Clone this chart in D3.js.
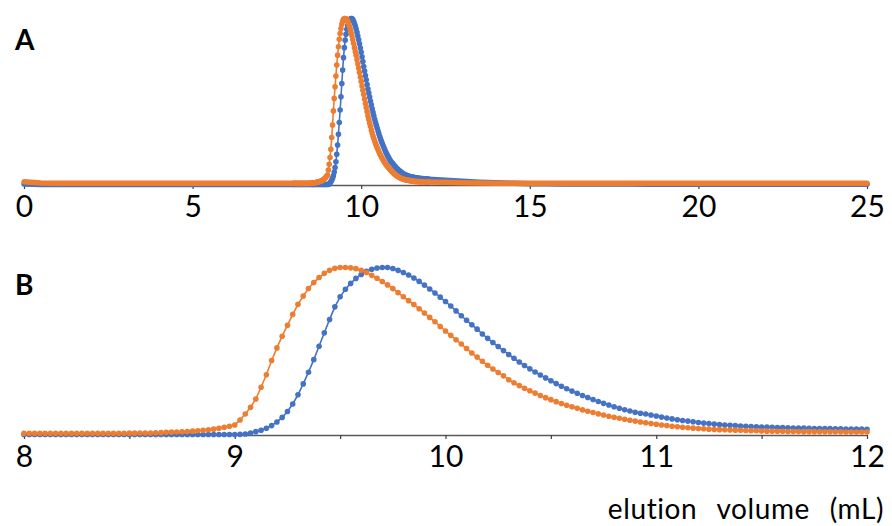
<!DOCTYPE html>
<html>
<head>
<meta charset="utf-8">
<script src="https://cdn.jsdelivr.net/npm/d3@7"></script>
<style>
  body { margin: 0; background: white; }
  .tick text { font-family: Lato, "Open Sans", sans-serif; font-size: 30px; fill: #000; }
  .panel-label { font-family: Lato, sans-serif; font-weight: bold; font-size: 28px; }
  .axis-title { font-family: Lato, sans-serif; font-size: 28px; }
</style>
</head>
<body>
<div class="canvas"></div>
<script>
var width = 892;
var height = 526;

// detail range 8 - 12 mL, one reading every 0.025 mL
const volStart = 8;
const volStep = 0.025;

const blueB = [
  0.003, 0.003, 0.003, 0.003, 0.003, 0.003, 0.003, 0.003, 0.003, 0.003,
  0.003, 0.003, 0.003, 0.003, 0.003, 0.003, 0.003, 0.003, 0.003, 0.003,
  0.003, 0.003, 0.003, 0.003, 0.003, 0.003, 0.003, 0.003, 0.003, 0.003,
  0.003, 0.003, 0.003, 0.003, 0.003, 0.003, 0.003, 0.003, 0.003, 0.003,
  0.003, 0.004, 0.006, 0.012, 0.02, 0.028, 0.04, 0.056, 0.078, 0.105,
  0.14, 0.185, 0.24, 0.305, 0.375, 0.45, 0.53, 0.61, 0.69, 0.765,
  0.825, 0.87, 0.905, 0.935, 0.958, 0.978, 0.99, 0.997, 1.0, 1.0,
  0.994, 0.983, 0.97, 0.955, 0.937, 0.917, 0.895, 0.872, 0.848, 0.823,
  0.797, 0.77, 0.741, 0.712, 0.685, 0.658, 0.632, 0.603, 0.577, 0.552,
  0.528, 0.504, 0.481, 0.458, 0.436, 0.415, 0.395, 0.376, 0.358, 0.341,
  0.324, 0.307, 0.291, 0.276, 0.262, 0.249, 0.236, 0.224, 0.212, 0.2,
  0.189, 0.179, 0.169, 0.16, 0.151, 0.143, 0.136, 0.13, 0.125, 0.119,
  0.113, 0.107, 0.101, 0.096, 0.091, 0.087, 0.083, 0.079, 0.075, 0.071,
  0.068, 0.065, 0.062, 0.06, 0.058, 0.056, 0.054, 0.052, 0.05, 0.049,
  0.048, 0.047, 0.046, 0.045, 0.044, 0.043, 0.042, 0.041, 0.041, 0.04,
  0.039, 0.039, 0.038, 0.038, 0.037, 0.037, 0.036, 0.036, 0.035, 0.035,
  0.034
];

const orangeB = [
  0.01, 0.01, 0.01, 0.01, 0.01, 0.01, 0.01, 0.01, 0.01, 0.01,
  0.01, 0.01, 0.01, 0.01, 0.01, 0.01, 0.01, 0.01, 0.01, 0.01,
  0.011, 0.011, 0.012, 0.012, 0.012, 0.013, 0.014, 0.016, 0.017, 0.018,
  0.019, 0.021, 0.023, 0.025, 0.028, 0.031, 0.035, 0.04, 0.046, 0.052,
  0.06, 0.09, 0.125, 0.165, 0.215, 0.285, 0.36, 0.445, 0.52, 0.59,
  0.655, 0.72, 0.78, 0.83, 0.875, 0.91, 0.94, 0.965, 0.983, 0.995,
  1.0, 1.0, 0.998, 0.993, 0.983, 0.97, 0.953, 0.936, 0.916, 0.896,
  0.874, 0.85, 0.825, 0.802, 0.779, 0.754, 0.728, 0.702, 0.676, 0.648,
  0.621, 0.595, 0.569, 0.543, 0.516, 0.49, 0.465, 0.44, 0.416, 0.394,
  0.373, 0.353, 0.33, 0.312, 0.295, 0.279, 0.264, 0.25, 0.236, 0.223,
  0.211, 0.199, 0.188, 0.178, 0.168, 0.159, 0.15, 0.142, 0.134, 0.126,
  0.119, 0.112, 0.106, 0.1, 0.094, 0.088, 0.083, 0.078, 0.073, 0.068,
  0.064, 0.06, 0.056, 0.052, 0.049, 0.046, 0.043, 0.041, 0.039, 0.037,
  0.035, 0.033, 0.032, 0.031, 0.03, 0.029, 0.028, 0.027, 0.026, 0.025,
  0.024, 0.023, 0.023, 0.022, 0.022, 0.021, 0.021, 0.021, 0.02, 0.02,
  0.02, 0.02, 0.019, 0.019, 0.019, 0.019, 0.018, 0.018, 0.018, 0.018,
  0.018
];

// flat parts of the full run (panel A), read every 0.5 mL
const baseVolLeft = [0, 0.5, 1, 1.5, 2, 2.5, 3, 3.5, 4, 4.5, 5, 5.5, 6, 6.5, 7, 7.5];
const blueLeft = [0.006, 0.003, 0.003, 0.003, 0.003, 0.003, 0.003, 0.003, 0.003, 0.003, 0.003, 0.003, 0.003, 0.003, 0.003, 0.003];
const orangeLeft = [0.02, 0.012, 0.01, 0.01, 0.01, 0.01, 0.01, 0.01, 0.01, 0.01, 0.01, 0.01, 0.01, 0.01, 0.011, 0.011];

const baseVolRight = [12.5, 13, 13.5, 14, 14.5, 15, 15.5, 16, 16.5, 17, 17.5, 18, 18.5, 19, 19.5, 20, 20.5, 21, 21.5, 22, 22.5, 23, 23.5, 24, 24.5, 25];
const blueRight = [0.028, 0.022, 0.017, 0.013, 0.01, 0.008, 0.007, 0.006, 0.006, 0.006, 0.006, 0.006, 0.005, 0.005, 0.005, 0.005, 0.005, 0.005, 0.005, 0.005, 0.005, 0.005, 0.005, 0.005, 0.005, 0.005];
const orangeRight = [0.016, 0.014, 0.012, 0.011, 0.01, 0.01, 0.01, 0.01, 0.01, 0.01, 0.01, 0.01, 0.01, 0.01, 0.01, 0.01, 0.01, 0.01, 0.01, 0.01, 0.01, 0.01, 0.01, 0.01, 0.01, 0.01];

const ticksA = [0, 5, 10, 15, 20, 25];
const ticksB = [8, 8.5, 9, 9.5, 10, 10.5, 11, 11.5, 12];

const colors = { blue: "#4472C4", orange: "#ED7D31" };

var svg = d3.select(".canvas").append("svg")
    .attr("width", width)
    .attr("height", height)
    .style("background", "white");

function toPoints(vals) {
    return vals.map((v, i) => ({ x: volStart + i * volStep, y: v }));
}
function zipPoints(xs, ys) {
    return xs.map((x, i) => ({ x: x, y: ys[i] }));
}

var seriesList = [
    { color: colors.blue, dense: toPoints(blueB), left: zipPoints(baseVolLeft, blueLeft), right: zipPoints(baseVolRight, blueRight) },
    { color: colors.orange, dense: toPoints(orangeB), left: zipPoints(baseVolLeft, orangeLeft), right: zipPoints(baseVolRight, orangeRight) }
];

function drawPanel(opts) {
    var g = svg.append("g");
    var x = d3.scaleLinear().domain(opts.domain).range([24, 867]);
    var y = d3.scaleLinear().domain([0, 1]).range([opts.axisY, opts.topY]);

    var axis = d3.axisBottom(x)
        .tickValues(opts.ticks)
        .tickSizeInner(4)
        .tickSizeOuter(0)
        .tickPadding(7)
        .tickFormat(d => Number.isInteger(d) ? d : "");

    var ax = g.append("g")
        .attr("transform", `translate(0,${opts.axisY})`)
        .call(axis);
    ax.select(".domain").attr("stroke", "#595959").attr("stroke-width", 1.5);
    ax.selectAll(".tick line").attr("stroke", "#404040").attr("stroke-width", 1.2);
    ax.selectAll(".tick text").attr("font-family", null).attr("font-size", null);

    var line = d3.line().x(d => x(d.x)).y(d => y(d.y));

    seriesList.forEach(s => {
        if (opts.full) {
            // flat stretches: dots overlap into a solid band
            [s.left.concat([s.dense[0]]), [s.dense[s.dense.length - 1]].concat(s.right)].forEach(seg => {
                g.append("path")
                    .attr("d", line(seg))
                    .attr("fill", "none")
                    .attr("stroke", s.color)
                    .attr("stroke-width", 5.5)
                    .attr("stroke-linecap", "round")
                    .attr("stroke-linejoin", "round");
            });
        }
        g.append("path")
            .attr("d", line(s.dense))
            .attr("fill", "none")
            .attr("stroke", s.color)
            .attr("stroke-width", 1.6);
        g.selectAll(null)
            .data(s.dense)
            .enter()
            .append("circle")
            .attr("cx", d => x(d.x))
            .attr("cy", d => y(d.y))
            .attr("r", 2.8)
            .attr("fill", s.color);
    });

    g.append("text")
        .attr("class", "panel-label")
        .attr("x", 15)
        .attr("y", opts.labelY)
        .text(opts.label);
}

drawPanel({ domain: [0, 25], ticks: ticksA, axisY: 185, topY: 18.5, full: true, label: "A", labelY: 50 });
drawPanel({ domain: [8, 12], ticks: ticksB, axisY: 435, topY: 267.5, full: false, label: "B", labelY: 295 });

svg.append("text")
    .attr("class", "axis-title")
    .attr("x", 884)
    .attr("y", 519)
    .attr("text-anchor", "end")
    .attr("letter-spacing", 0.6)
    .attr("word-spacing", 12)
    .text("elution volume (mL)");
</script>
</body>
</html>
